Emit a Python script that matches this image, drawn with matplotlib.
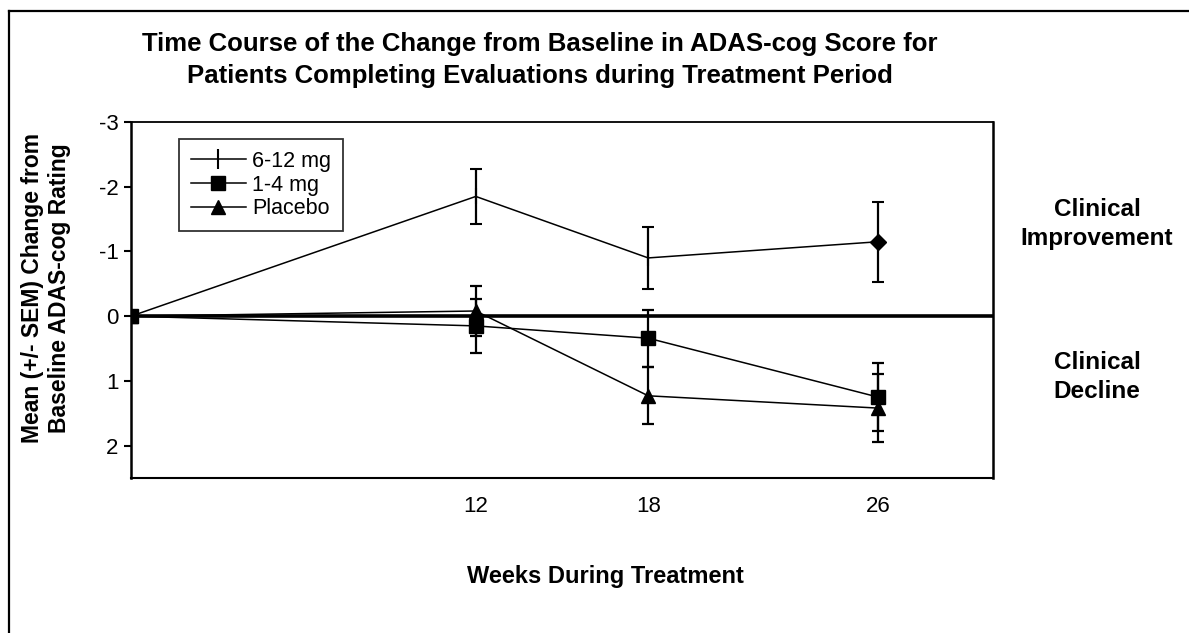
import matplotlib
matplotlib.use("Agg")
import matplotlib.pyplot as plt
from matplotlib.lines import Line2D

plt.rcParams['font.family'] = ['Liberation Sans', 'DejaVu Sans']
plt.rcParams['axes.unicode_minus'] = False

# weeks of evaluation
weeks = [0, 12, 18, 26]

# mean change from baseline in ADAS-cog (negative = improvement)
high_dose = [0, -1.85, -0.90, -1.15]
high_sem = [0, 0.42, 0.48, 0.62]
low_dose = [0, 0.15, 0.34, 1.25]
low_sem = [0, 0.42, 0.44, 0.53]
placebo = [0, -0.08, 1.23, 1.42]
placebo_sem = [0, 0.39, 0.44, 0.52]

series_labels = ['6-12 mg', '1-4 mg', 'Placebo']
x_ticks = [12, 18, 26]
y_ticks = [-3, -2, -1, 0, 1, 2]

fig = plt.figure(figsize=(11.89, 6.33), dpi=100)
ax = fig.add_axes([131 / 1189, 1 - 478 / 633, (993 - 131) / 1189, (478 - 122) / 633])

ax.axhline(0, color='black', lw=2.6, zorder=1)

err_kw = dict(color='black', lw=1.1, elinewidth=1.6, capsize=4.5, capthick=1.6)
ax.errorbar(weeks, high_dose, yerr=high_sem, marker='|', ms=12, mew=1.5, zorder=3, **err_kw)
ax.plot(weeks[-1], high_dose[-1], marker='D', ms=8, color='black', ls='none', zorder=4)
ax.errorbar(weeks, low_dose, yerr=low_sem, marker='s', ms=10, zorder=3, **err_kw)
ax.errorbar(weeks, placebo, yerr=placebo_sem, marker='^', ms=10, zorder=3, **err_kw)

ax.set_xlim(0, 30)
ax.set_ylim(2.5, -3)
ax.set_xticks(x_ticks)
ax.set_yticks(y_ticks)
ax.tick_params(axis='x', length=0, labelsize=16, pad=13)
ax.tick_params(axis='y', direction='out', length=5, width=1.5, labelsize=16, pad=4)
for side, w in [('left', 1.8), ('right', 1.8), ('top', 1.3), ('bottom', 1.5)]:
    ax.spines[side].set_linewidth(w)

# legend: plain line + marker, no error bars
handles = [
    Line2D([], [], color='black', lw=1.1, marker='|', ms=14, mew=1.5),
    Line2D([], [], color='black', lw=1.1, marker='s', ms=10),
    Line2D([], [], color='black', lw=1.1, marker='^', ms=10),
]
leg = ax.legend(handles, series_labels, loc='upper left', bbox_to_anchor=(0.0557, 0.952),
                fontsize=15.5, frameon=True, fancybox=False, edgecolor='black',
                handlelength=2.55, handletextpad=0.28, borderpad=0.55, labelspacing=0.12,
                borderaxespad=0)
leg.get_frame().set_linewidth(1.3)

fig.text(540 / 1189, 1 - 60 / 633,
         'Time Course of the Change from Baseline in ADAS-cog Score for\n'
         'Patients Completing Evaluations during Treatment Period',
         ha='center', va='center', fontsize=18.5, fontweight='bold', linespacing=1.45)
fig.text(46 / 1189, 1 - 288 / 633,
         'Mean (+/- SEM) Change from\nBaseline ADAS-cog Rating',
         ha='center', va='center', rotation=90, fontsize=16.5, fontweight='bold',
         linespacing=1.2)
fig.text(605 / 1189, 1 - 577 / 633, 'Weeks During Treatment',
         ha='center', va='center', fontsize=17, fontweight='bold')
fig.text(1097 / 1189, 1 - 224 / 633, 'Clinical\nImprovement',
         ha='center', va='center', fontsize=17.5, fontweight='bold', linespacing=1.38)
fig.text(1097 / 1189, 1 - 377 / 633, 'Clinical\nDecline',
         ha='center', va='center', fontsize=17.5, fontweight='bold', linespacing=1.38)

# outer frame (left and top only visible)
fig.add_artist(Line2D([8.5 / 1189, 8.5 / 1189], [0, 1 - 11 / 633],
                      transform=fig.transFigure, color='black', lw=1.6))
fig.add_artist(Line2D([8.5 / 1189, 1], [1 - 11 / 633, 1 - 11 / 633],
                      transform=fig.transFigure, color='black', lw=1.6))

fig.savefig('out.png', dpi=100)
